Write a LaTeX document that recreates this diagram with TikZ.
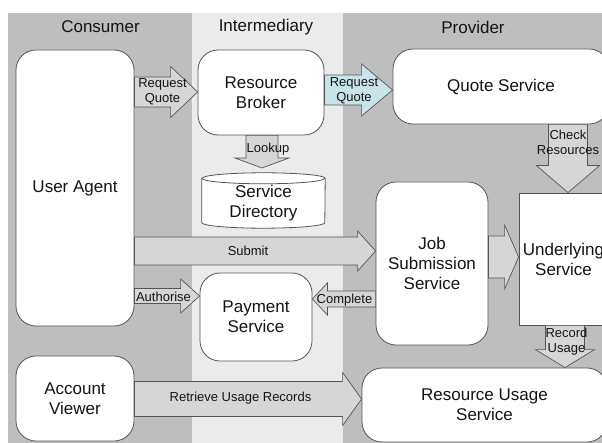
\documentclass[tikz,border=0pt]{standalone}
\usepackage{fontspec}
\setmainfont{Liberation Sans}
\usetikzlibrary{calc}
\definecolor{lanedark}{HTML}{BEBEBE}
\definecolor{lanelight}{HTML}{EBEBEB}
\definecolor{edge}{HTML}{555555}
\definecolor{flow}{HTML}{D6D6D6}
\definecolor{flowblue}{HTML}{C8E4E9}
\definecolor{ink}{HTML}{141414}
\newcommand\boxfont{\fontsize{17}{20}\selectfont}
\newcommand\flowfont{\fontsize{13}{15}\selectfont}
% horizontal block arrow: style, tail, tip, centre row, shaft half, head half, head length (negative = leftward)
\newcommand\hblk[7]{%
  \draw[#1] let \p1=(#2), \p2=(#3), \p3=(0,#4) in
    (\x1,{\y3+#5pt}) -- ({\x2-(#7pt)},{\y3+#5pt}) -- ({\x2-(#7pt)},{\y3+#6pt})
    -- (\x2,\y3) -- ({\x2-(#7pt)},{\y3-#6pt}) -- ({\x2-(#7pt)},{\y3-#5pt})
    -- (\x1,{\y3-#5pt}) -- cycle;}
% downward block arrow: style, tail, tip, centre column, shaft half, head half, head length
\newcommand\vblk[7]{%
  \draw[#1] let \p1=(#2), \p2=(#3), \p3=(#4,0) in
    ({\x3-#5pt},\y1) -- ({\x3-#5pt},{\y2+#7pt}) -- ({\x3-#6pt},{\y2+#7pt})
    -- (\x3,\y2) -- ({\x3+#6pt},{\y2+#7pt}) -- ({\x3+#5pt},{\y2+#7pt})
    -- ({\x3+#5pt},\y1) -- cycle;}
\begin{document}
\begin{tikzpicture}[x=1pt,y=-1pt,
  box/.style={draw=edge, fill=white, rounded corners=20pt, line width=0.8pt,
    align=center, inner sep=0pt, font=\boxfont, text=ink},
  blk/.style={draw=edge, fill=flow, line width=0.7pt, line join=miter},
  blkblue/.style={blk, fill=flowblue},
  lbl/.style={font=\flowfont, align=center, inner sep=0pt, text=ink},
  title/.style={font=\boxfont, inner sep=0pt, text=ink},
  cyl/.style={draw=edge, fill=white, line width=0.8pt}]
\useasboundingbox (0,0) rectangle (602,443);
\clip (0,0) rectangle (602,443);

% swim lanes
\fill[white] (0,0) rectangle (602,443);
\fill[lanedark] (8,13) rectangle (192,443);
\fill[lanelight] (192,13) rectangle (343,443);
\fill[lanedark] (343,13) rectangle (602,443);
\node[title] (tcons) at (100.5,27) {Consumer};
\node[title] (tint) at (266,27) {Intermediary};
\node[title] (tprov) at (473,27) {Provider};

% components
\node[box, minimum width=118, minimum height=276] (ua) at (75,188) {User Agent};
\node[box, minimum width=118, minimum height=85] (av) at (75,398.5) {Account\\Viewer};
\node[box, minimum width=126, minimum height=85] (rb) at (261,92.5) {Resource\\Broker};
\node[box, minimum width=216, minimum height=75] (qs) at (501,86.5) {Quote Service};
\node[box, minimum width=112, minimum height=163] (js) at (432,263.5) {Job\\Submission\\Service};
\node[box, rounded corners=0pt, minimum width=89, minimum height=132] (und) at (563.5,259) {Underlying\\Service};
\node[box, minimum width=112, minimum height=88] (pay) at (256,317) {Payment\\Service};
\node[box, minimum width=245, minimum height=74] (rus) at (484.5,405) {Resource Usage\\Service};

% service directory drawn as a cylinder
\node[minimum width=123, minimum height=55, inner sep=0pt] (sd) at (263.5,200.5) {};
\path[cyl] ([yshift=-5.5pt]sd.north west) -- ([yshift=5.5pt]sd.south west)
  arc[start angle=180, end angle=360, x radius=61.5pt, y radius=5.5pt]
  -- ([yshift=-5.5pt]sd.north east)
  arc[start angle=0, end angle=180, x radius=61.5pt, y radius=5.5pt] -- cycle;
\draw[edge, line width=0.8pt] ([yshift=-5.5pt]sd.north west)
  arc[start angle=180, end angle=360, x radius=61.5pt, y radius=5.5pt];
\node[font=\boxfont, align=center, inner sep=0pt, text=ink] (sdtext) at (263.5,203) {Service\\Directory};
\coordinate (lk) at (262,168);

% message flows
\hblk{blk}{ua.east}{rb.west}{92}{15}{25.5}{27}
\hblk{blkblue}{rb.east}{qs.west}{90}{15}{26}{31}
\hblk{blk}{ua.east}{js.west}{251}{14}{20}{18}
\hblk{blk}{ua.east}{pay.west}{296}{7.5}{17}{19}
\hblk{blk}{js.west}{pay.east}{299}{8}{16}{-15}
\hblk{blk}{js.east}{und.west}{257}{21}{32}{14}
\hblk{blk}{av.east}{rus.west}{399}{17.5}{26.5}{19}
\vblk{blk}{rb.south}{lk}{262}{16}{27}{10}
\vblk{blk}{qs.south}{und.north}{568}{19.5}{31.5}{27}
\vblk{blk}{und.south}{rus.north}{565}{19.5}{29.5}{18}

% flow labels
\node[lbl] (lrq1) at (162.5,92) {Request\\Quote};
\node[lbl] (lrq2) at (354,90.5) {Request\\Quote};
\node[lbl] (llook) at (268,149) {Lookup};
\node[lbl] (lsub) at (248,251) {Submit};
\node[lbl] (lauth) at (163.5,297) {Authorise};
\node[lbl] (lcomp) at (344.5,300) {Complete};
\node[lbl] (lcheck) at (568,142) {Check\\Resources};
\node[lbl] (lrec) at (566.5,342) {Record\\Usage};
\node[lbl] (lret) at (240.5,398) {Retrieve Usage Records};
\end{tikzpicture}
\end{document}
